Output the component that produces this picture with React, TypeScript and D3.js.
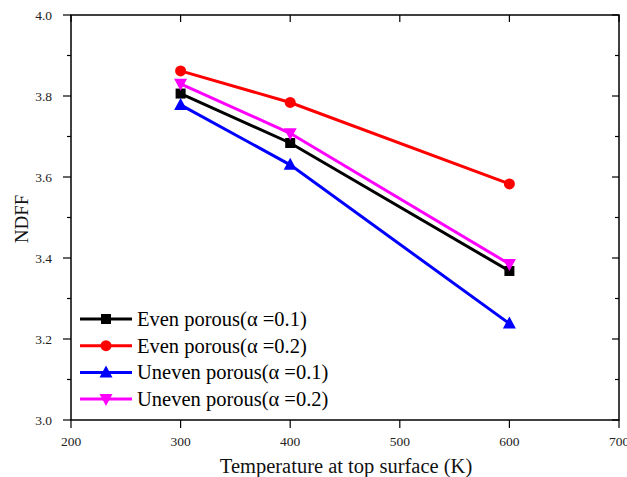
import React from "react";
import * as d3 from "d3";

const temps = [300, 400, 600];
const evenA01 = [3.806, 3.684, 3.368];
const evenA02 = [3.862, 3.784, 3.583];
const unevenA01 = [3.778, 3.63, 3.238];
const unevenA02 = [3.83, 3.708, 3.385];
const seriesNames = [
  "Even porous(\u03b1 =0.1)",
  "Even porous(\u03b1 =0.2)",
  "Uneven porous(\u03b1 =0.1)",
  "Uneven porous(\u03b1 =0.2)",
];
const colors = ["#000000", "#ff0000", "#0000ff", "#ff00ff"];
const symbols = ["square", "circle", "triangle", "triangleDown"];
const xTicks = [200, 300, 400, 500, 600, 700];
const yTicks = [3.0, 3.2, 3.4, 3.6, 3.8, 4.0];
const yMinor = [3.1, 3.3, 3.5, 3.7, 3.9];

const W = 627, H = 477;
const L = 71, R = 619, T = 15, B = 420;

function Marker({ kind, x, y, color }: { kind: string; x: number; y: number; color: string }) {
  if (kind === "square") return <rect x={x - 5} y={y - 5} width={10} height={10} fill={color} />;
  if (kind === "circle") return <circle cx={x} cy={y} r={5.5} fill={color} />;
  if (kind === "triangle")
    return <path d={`M${x},${y - 7}L${x + 6.5},${y + 5}L${x - 6.5},${y + 5}Z`} fill={color} />;
  return <path d={`M${x},${y + 7}L${x + 6.5},${y - 5}L${x - 6.5},${y - 5}Z`} fill={color} />;
}

export default function App() {
  const x = d3.scaleLinear().domain([200, 700]).range([L, R]);
  const y = d3.scaleLinear().domain([3.0, 4.0]).range([B, T]);
  const data = [evenA01, evenA02, unevenA01, unevenA02];
  const line = d3
    .line<[number, number]>()
    .x((d) => x(d[0]))
    .y((d) => y(d[1]));
  const font = "'Liberation Serif', 'Times New Roman', serif";
  return (
    <svg width={W} height={H} style={{ position: "absolute", left: 0, top: 0 }} fontFamily={font}>
      <rect width={W} height={H} fill="#fff" />
      {/* frame */}
      <rect x={L} y={T} width={R - L} height={B - T} fill="none" stroke="#000" strokeWidth={1.5} />
      {/* x ticks */}
      {xTicks.map((t) => (
        <g key={"x" + t}>
          <line x1={x(t)} x2={x(t)} y1={B} y2={B + 8} stroke="#000" strokeWidth={1.2} />
          <line x1={x(t)} x2={x(t)} y1={T} y2={T + 7} stroke="#000" strokeWidth={1.2} />
          <text x={x(t)} y={B + 26} textAnchor="middle" fontSize={13.5} fill="#222">
            {t}
          </text>
        </g>
      ))}
      {/* y ticks */}
      {yTicks.map((t) => (
        <g key={"y" + t}>
          <line x1={L - 8} x2={L} y1={y(t)} y2={y(t)} stroke="#000" strokeWidth={1.2} />
          <line x1={R - 7} x2={R} y1={y(t)} y2={y(t)} stroke="#000" strokeWidth={1.2} />
          <text x={L - 19} y={y(t) + 4.5} textAnchor="end" fontSize={13.5} fill="#222">
            {t.toFixed(1)}
          </text>
        </g>
      ))}
      {yMinor.map((t) => (
        <g key={"ym" + t}>
          <line x1={L - 4} x2={L} y1={y(t)} y2={y(t)} stroke="#000" strokeWidth={1.2} />
          <line x1={R - 4} x2={R} y1={y(t)} y2={y(t)} stroke="#000" strokeWidth={1.2} />
        </g>
      ))}
      {/* axis titles */}
      <text x={346} y={473} textAnchor="middle" fontSize={20.5} fill="#111">
        Temperature at top surface (K)
      </text>
      <text
        transform={`translate(28, ${219}) rotate(-90)`}
        textAnchor="middle"
        fontSize={19}
        fill="#111"
      >
        NDFF
      </text>
      {/* series */}
      {data.map((vals, i) => {
        const pts = temps.map((t, j) => [t, vals[j]] as [number, number]);
        return (
          <g key={"s" + i}>
            <path d={line(pts) || ""} fill="none" stroke={colors[i]} strokeWidth={3} />
            {pts.map((p, j) => (
              <Marker key={j} kind={symbols[i]} x={x(p[0])} y={y(p[1])} color={colors[i]} />
            ))}
          </g>
        );
      })}
      {/* legend */}
      {seriesNames.map((name, i) => {
        const ly = 319 + i * 26.7;
        return (
          <g key={"l" + i}>
            <line x1={80} x2={132} y1={ly} y2={ly} stroke={colors[i]} strokeWidth={3} />
            <Marker kind={symbols[i]} x={106} y={ly} color={colors[i]} />
            <text x={137} y={ly + 7} fontSize={20.5} fill="#000">
              {name}
            </text>
          </g>
        );
      })}
    </svg>
  );
}
